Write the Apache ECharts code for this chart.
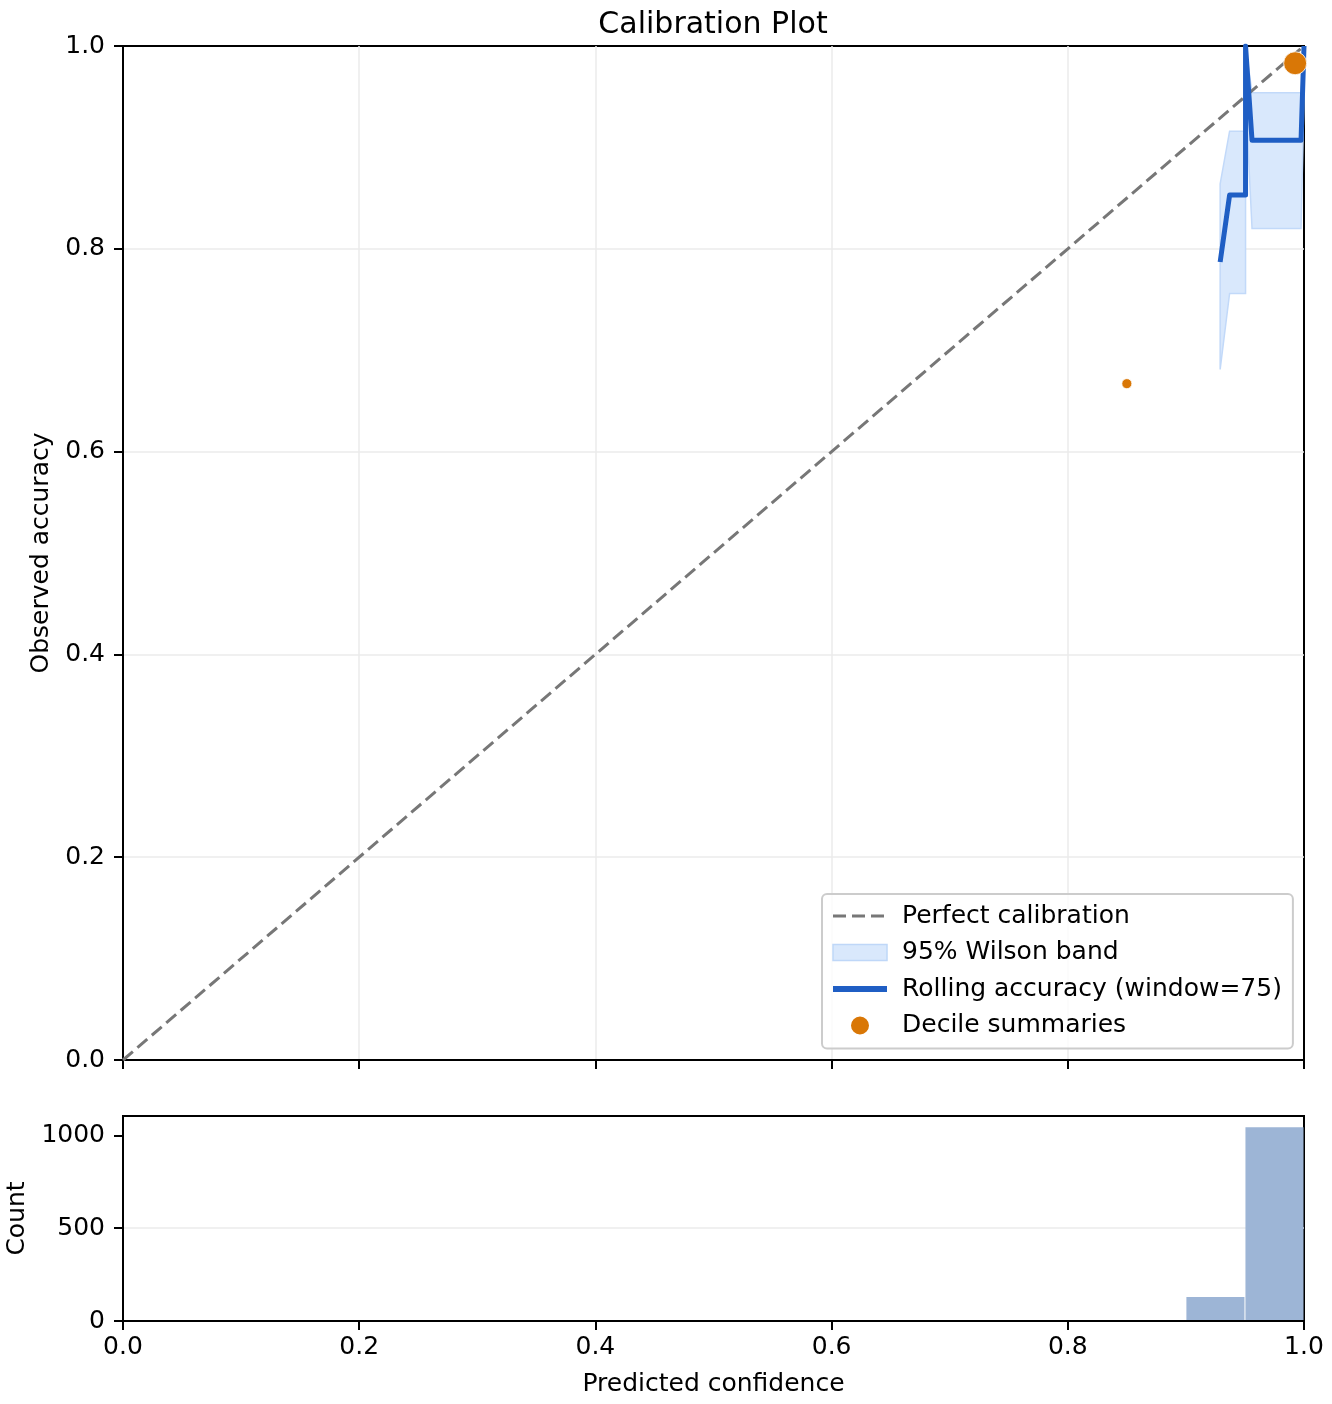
<!DOCTYPE html>
<html>
<head>
    <meta charset="utf-8">
    <title>Calibration Plot</title>
    <script src="https://cdn.jsdelivr.net/npm/echarts@6/dist/echarts.min.js"></script>
    <style>
        html, body { margin: 0; padding: 0; background: #fff; }
        #chart { width: 1332px; height: 1404px; }
    </style>
</head>
<body>
<div id="chart"></div>
<script type="text/javascript">
    // rolling accuracy (window=75) with its 95% Wilson band
    var rollX     = [0.929, 0.937, 0.9505, 0.9505, 0.956, 0.9975, 1.0];
    var rollAcc   = [0.787, 0.853, 0.853, 1.0, 0.907, 0.907, 1.0];
    var bandLower = [0.681, 0.756, 0.756, 0.951, 0.820, 0.820, 0.951];
    var bandUpper = [0.864, 0.916, 0.916, 1.0, 0.954, 0.954, 1.0];

    // decile summaries: mean confidence, observed accuracy, count
    var decileConf  = [0.850, 0.9925];
    var decileAcc   = [0.667, 0.983];
    var decileCount = [3, 1177];

    // histogram of predicted confidence (bin width 0.05)
    var binStart  = [0.85, 0.90, 0.95];
    var binCount  = [3, 130, 1045];
    var binWidth  = 0.05;

    var countTicks = [0, 500, 1000];

    var FONT = 'DejaVu Sans';
    var chart = echarts.init(document.getElementById('chart'));

    var rollData = rollX.map(function (x, i) { return [x, rollAcc[i]]; });
    var decileData = decileConf.map(function (x, i) { return [x, decileAcc[i], decileCount[i]]; });
    var histData = binStart.map(function (x, i) { return [x, x + binWidth, binCount[i]]; });
    var maxCount = Math.max.apply(null, decileCount);

    var spine = { color: '#000', width: 2 };
    var grid = { color: '#ebebeb', width: 1.5 };
    var noSymbol = { color: 'rgba(0,0,0,0)', borderWidth: 0 };

    chart.setOption({
        backgroundColor: '#fff',
        animation: false,
        textStyle: { fontFamily: FONT },
        title: {
            text: 'Calibration Plot',
            left: 708,
            textAlign: 'center',
            top: 5,
            textStyle: { fontFamily: FONT, fontSize: 30, fontWeight: 'normal', color: '#000' }
        },
        grid: [
            { left: 123, top: 46, width: 1181, height: 1014, show: true, borderColor: '#000', borderWidth: 2, outerBoundsMode: 'none' },
            { left: 123, top: 1116, width: 1181, height: 205, show: true, borderColor: '#000', borderWidth: 2, outerBoundsMode: 'none' }
        ],
        xAxis: [
            {
                type: 'value', gridIndex: 0, min: 0, max: 1, interval: 0.2,
                axisLine: { onZero: false, lineStyle: spine },
                axisTick: { length: 9, lineStyle: spine },
                axisLabel: { show: false },
                splitLine: { show: true, lineStyle: grid, showMinLine: false, showMaxLine: false }
            },
            {
                type: 'value', gridIndex: 1, min: 0, max: 1, interval: 0.2,
                axisLine: { onZero: false, lineStyle: spine },
                axisTick: { length: 9, lineStyle: spine },
                axisLabel: {
                    fontFamily: FONT, fontSize: 25, color: '#000', margin: 14,
                    formatter: function (v) { return v.toFixed(1); }
                },
                splitLine: { show: false },
                name: 'Predicted confidence', nameLocation: 'middle', nameGap: 51,
                nameTextStyle: { fontFamily: FONT, fontSize: 25, color: '#000' }
            }
        ],
        yAxis: [
            {
                type: 'value', gridIndex: 0, min: 0, max: 1, interval: 0.2,
                axisLine: { onZero: false, lineStyle: spine },
                axisTick: { length: 9, lineStyle: spine },
                axisLabel: {
                    fontFamily: FONT, fontSize: 25, color: '#000', margin: 18,
                    formatter: function (v) { return v.toFixed(1); }
                },
                splitLine: { show: true, lineStyle: grid, showMinLine: false, showMaxLine: false },
                name: 'Observed accuracy', nameLocation: 'middle', nameGap: 68,
                nameTextStyle: { fontFamily: FONT, fontSize: 25, color: '#000' }
            },
            {
                type: 'value', gridIndex: 1, min: 0, max: 1105, interval: 500,
                axisLine: { onZero: false, lineStyle: spine },
                axisTick: { length: 9, lineStyle: spine, customValues: countTicks },
                axisLabel: {
                    fontFamily: FONT, fontSize: 25, color: '#000', margin: 18,
                    customValues: countTicks,
                    formatter: function (v) { return String(v); }
                },
                splitLine: { show: true, lineStyle: grid, showMinLine: false, showMaxLine: false },
                name: 'Count', nameLocation: 'middle', nameGap: 88,
                nameTextStyle: { fontFamily: FONT, fontSize: 25, color: '#000' }
            }
        ],
        legend: {
            left: 822, top: 894,
            orient: 'vertical',
            itemWidth: 54, itemHeight: 20, itemGap: 8.5,
            padding: [8, 11, 9, 8],
            backgroundColor: 'rgba(255,255,255,0.8)',
            borderColor: '#cccccc', borderWidth: 2, borderRadius: 5,
            selectedMode: false,
            textStyle: { fontFamily: FONT, fontSize: 25, color: '#000', lineHeight: 28, padding: [0, 0, 0, 10] },
            data: [
                { name: 'Perfect calibration', itemStyle: noSymbol, lineStyle: { width: 3, type: [13, 6], color: '#777777' } },
                {
                    name: '95% Wilson band', icon: 'path://M0,0H54V16H0Z',
                    itemStyle: { color: '#d9e8fc', borderColor: '#bfd7f8', borderWidth: 1.5 }
                },
                { name: 'Rolling accuracy (window=75)', itemStyle: noSymbol, lineStyle: { width: 6, color: '#1f5ec4' } },
                { name: 'Decile summaries', icon: 'circle', itemStyle: { color: '#d97706' } }
            ]
        },
        series: [
            {
                name: '95% Wilson band',
                type: 'custom',
                xAxisIndex: 0, yAxisIndex: 0,
                z: 1,
                data: [0],
                itemStyle: { color: '#d9e8fc' },
                renderItem: function (params, api) {
                    var pts = [];
                    for (var i = 0; i < rollX.length; i++) pts.push(api.coord([rollX[i], bandUpper[i]]));
                    for (var j = rollX.length - 1; j >= 0; j--) pts.push(api.coord([rollX[j], bandLower[j]]));
                    return {
                        type: 'polygon',
                        shape: { points: pts },
                        style: { fill: '#d9e8fc', stroke: '#c2d9f9', lineWidth: 1.5 }
                    };
                }
            },
            {
                name: 'Perfect calibration',
                type: 'line',
                xAxisIndex: 0, yAxisIndex: 0,
                z: 2,
                symbol: 'none',
                data: [[0, 0], [1, 1]],
                lineStyle: { color: '#777777', width: 3, type: [13, 6] }
            },
            {
                name: 'Rolling accuracy (window=75)',
                type: 'line',
                xAxisIndex: 0, yAxisIndex: 0,
                z: 3,
                symbol: 'none',
                data: rollData,
                lineStyle: { color: '#1f5ec4', width: 5, join: 'round' },
                itemStyle: { color: '#1f5ec4' }
            },
            {
                name: 'Decile summaries',
                type: 'scatter',
                xAxisIndex: 0, yAxisIndex: 0,
                z: 4,
                data: decileData,
                symbolSize: function (val) { return 10 + 13 * (val[2] / maxCount); },
                itemStyle: { color: '#d97706', borderColor: '#ffffff', borderWidth: 0.8, opacity: 1 }
            },
            {
                name: 'Count',
                type: 'custom',
                xAxisIndex: 1, yAxisIndex: 1,
                data: histData,
                renderItem: function (params, api) {
                    var p0 = api.coord([api.value(0), api.value(2)]);
                    var p1 = api.coord([api.value(1), 0]);
                    // leave a 1px white seam between bins and keep the bottom spine visible
                    var h = Math.max(0, p1[1] - 1 - p0[1]);
                    return {
                        type: 'rect',
                        shape: { x: p0[0] + 0.5, y: p0[1], width: p1[0] - p0[0] - 1, height: h },
                        style: { fill: '#9db5d6' }
                    };
                }
            }
        ]
    });
</script>
</body>
</html>
